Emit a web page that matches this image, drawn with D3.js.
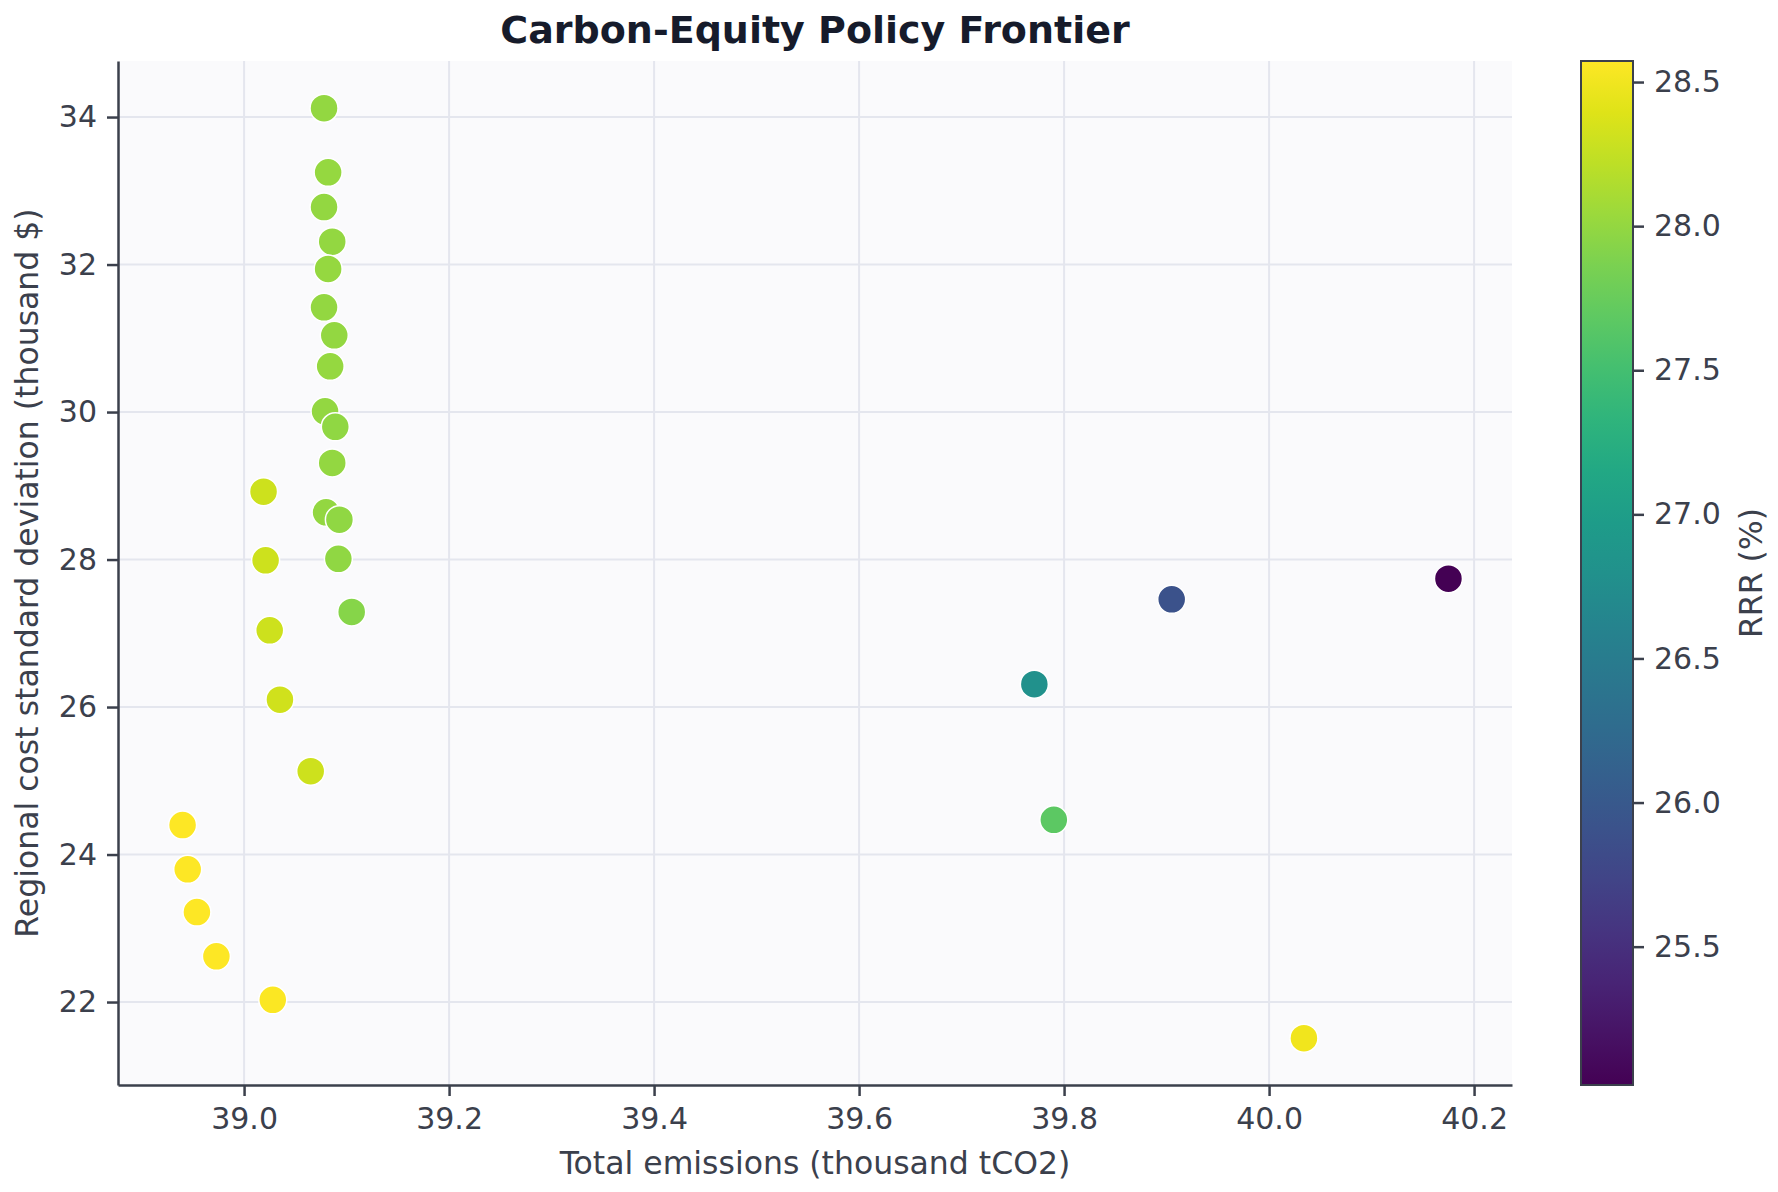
<!DOCTYPE html>
<html>
<head>
<meta charset="utf-8">
<script src="https://cdn.jsdelivr.net/npm/d3@7"></script>
<style>
  body { margin: 0; background: #fff; }
  text { font-family: 'DejaVu Sans', sans-serif; }
</style>
</head>
<body>
<div id="chart"></div>
<script>
// policy runs: emissions (thousand tCO2), regional cost sd (thousand $), RRR (%)
const emissions = [39.078, 39.082, 39.078, 39.086, 39.082, 39.078, 39.088, 39.084, 39.079, 39.089,
  39.086, 39.019, 39.080, 39.093, 39.021, 39.092, 39.105, 39.025, 39.035, 39.065,
  38.940, 38.945, 38.954, 38.973, 39.028, 39.771, 39.905, 40.175, 39.790, 40.034]
const costSd = [34.12, 33.25, 32.78, 32.31, 31.94, 31.42, 31.04, 30.62, 30.01, 29.80,
  29.31, 28.92, 28.64, 28.54, 27.99, 28.01, 27.29, 27.04, 26.10, 25.13,
  24.40, 23.80, 23.22, 22.62, 22.03, 26.31, 27.46, 27.74, 24.47, 21.51]
const rrr = [28.00, 28.01, 28.00, 28.00, 28.01, 28.00, 28.00, 28.01, 28.00, 27.99,
  28.00, 28.30, 28.00, 27.98, 28.30, 27.98, 27.93, 28.30, 28.31, 28.30,
  28.57, 28.57, 28.56, 28.56, 28.55, 26.80, 25.91, 25.02, 27.68, 28.50]

const xTicks = [39.0, 39.2, 39.4, 39.6, 39.8, 40.0, 40.2]
const yTicks = [22, 24, 26, 28, 30, 32, 34]
const cTicks = [25.5, 26.0, 26.5, 27.0, 27.5, 28.0, 28.5]

const W = 1778
const H = 1192
const plot = { left: 118, right: 1512, top: 61, bottom: 1085 }
const cbar = { left: 1581, right: 1633 }
const ink = '#3b404c'

const svg = d3.select('#chart').append('svg')
  .attr('width', W)
  .attr('height', H)

svg.append('rect').attr('width', W).attr('height', H).attr('fill', '#fff')

const x = d3.scaleLinear().domain([38.877, 40.237]).range([plot.left, plot.right])
const y = d3.scaleLinear().domain([20.875, 34.76]).range([plot.bottom, plot.top])
const cDomain = [25.02, 28.573]
const color = d3.scaleSequential(d3.interpolateViridis).domain(cDomain)

// plot background
svg.append('rect')
  .attr('x', plot.left).attr('y', plot.top)
  .attr('width', plot.right - plot.left)
  .attr('height', plot.bottom - plot.top)
  .attr('fill', '#fafafc')

// grid
const grid = svg.append('g').attr('stroke', '#e4e6ee').attr('stroke-width', 2)
grid.selectAll('.vx').data(xTicks).enter().append('line')
  .attr('x1', d => x(d)).attr('x2', d => x(d))
  .attr('y1', plot.top).attr('y2', plot.bottom)
grid.selectAll('.hy').data(yTicks).enter().append('line')
  .attr('y1', d => y(d)).attr('y2', d => y(d))
  .attr('x1', plot.left).attr('x2', plot.right)

const styleAxis = (g) => {
  g.selectAll('path').attr('stroke', ink).attr('stroke-width', 2.5)
  g.selectAll('line').attr('stroke', ink).attr('stroke-width', 2.5)
  g.selectAll('text').attr('fill', ink).style('font-size', '30px')
    .style('font-family', "'DejaVu Sans', sans-serif")
}

svg.append('g')
  .attr('transform', `translate(0,${plot.bottom})`)
  .call(d3.axisBottom(x).tickValues(xTicks).tickFormat(d3.format('.1f'))
    .tickSize(11).tickSizeOuter(0).tickPadding(12))
  .call(styleAxis)

svg.append('g')
  .attr('transform', `translate(${plot.left},0)`)
  .call(d3.axisLeft(y).tickValues(yTicks).tickFormat(d3.format('d'))
    .tickSize(11).tickSizeOuter(0).tickPadding(10))
  .call(styleAxis)

// points
svg.append('g').selectAll('circle')
  .data(emissions.map((e, i) => ({ e, s: costSd[i], r: rrr[i] })))
  .enter().append('circle')
  .attr('cx', d => x(d.e))
  .attr('cy', d => y(d.s))
  .attr('r', 14)
  .attr('fill', d => color(d.r))
  .attr('stroke', '#fff')
  .attr('stroke-width', 1.5)

// colorbar
const defs = svg.append('defs')
const grad = defs.append('linearGradient')
  .attr('id', 'viridis')
  .attr('x1', 0).attr('y1', 1).attr('x2', 0).attr('y2', 0)
d3.range(0, 1.0001, 0.05).forEach(t => {
  grad.append('stop').attr('offset', t).attr('stop-color', d3.interpolateViridis(t))
})

const cy = d3.scaleLinear().domain(cDomain).range([plot.bottom, plot.top])
svg.append('rect')
  .attr('x', cbar.left).attr('y', plot.top)
  .attr('width', cbar.right - cbar.left)
  .attr('height', plot.bottom - plot.top)
  .attr('fill', 'url(#viridis)')
  .attr('stroke', ink)
  .attr('stroke-width', 2)

svg.append('g')
  .attr('transform', `translate(${cbar.right},0)`)
  .call(d3.axisRight(cy).tickValues(cTicks).tickFormat(d3.format('.1f'))
    .tickSize(11).tickSizeOuter(0).tickPadding(10))
  .call(styleAxis)
  .call(g => g.select('.domain').remove())

// labels
svg.append('text')
  .attr('x', (plot.left + plot.right) / 2)
  .attr('y', 43)
  .attr('text-anchor', 'middle')
  .style('font-size', '38px')
  .style('font-weight', 'bold')
  .attr('fill', '#161b2b')
  .text('Carbon-Equity Policy Frontier')

svg.append('text')
  .attr('x', (plot.left + plot.right) / 2)
  .attr('y', 1174)
  .attr('text-anchor', 'middle')
  .style('font-size', '31.5px')
  .attr('fill', ink)
  .text('Total emissions (thousand tCO2)')

svg.append('text')
  .attr('transform', `translate(38,${(plot.top + plot.bottom) / 2}) rotate(-90)`)
  .attr('text-anchor', 'middle')
  .style('font-size', '31.5px')
  .attr('fill', ink)
  .text('Regional cost standard deviation (thousand $)')

svg.append('text')
  .attr('transform', `translate(1762,${(plot.top + plot.bottom) / 2}) rotate(-90)`)
  .attr('text-anchor', 'middle')
  .style('font-size', '31.5px')
  .attr('fill', ink)
  .text('RRR (%)')
</script>
</body>
</html>
